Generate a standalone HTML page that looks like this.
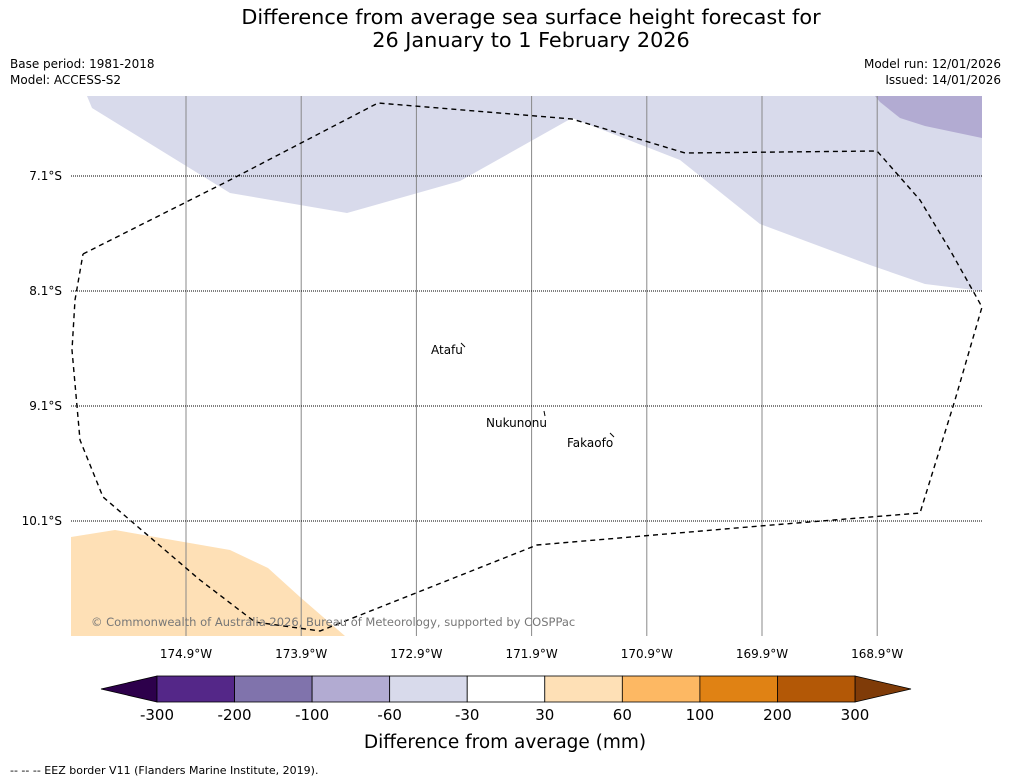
<!DOCTYPE html>
<html><head><meta charset="utf-8"><style>
body{margin:0;background:#fff;font-family:"Liberation Sans","DejaVu Sans",sans-serif;}
svg{display:block}
</style></head><body>
<svg width="1011" height="781" viewBox="0 0 1011 781" font-family="DejaVu Sans, Liberation Sans, sans-serif">
<text x="531" y="24" font-size="20.8" text-anchor="middle">Difference from average sea surface height forecast for</text>
<text x="531" y="47" font-size="20.8" text-anchor="middle">26 January to 1 February 2026</text>
<text x="10" y="68" font-size="12">Base period: 1981-2018</text>
<text x="10" y="84" font-size="12">Model: ACCESS-S2</text>
<text x="1001" y="68" font-size="12" text-anchor="end">Model run: 12/01/2026</text>
<text x="1001" y="84" font-size="12" text-anchor="end">Issued: 14/01/2026</text>
<g>
<clipPath id="c"><rect x="71" y="96" width="911" height="540"/></clipPath>
<g clip-path="url(#c)">
<polygon fill="#d8daeb" points="87,96 92,108 230,193 347,213 460,181 572,118 680,160 760,224 870,265 925,284 982,291 982,96"/>
<polygon fill="#b2abd2" points="875,96 880,102 900,118 925,126 982,138 982,96"/>
<polygon fill="#fee0b6" points="71,537 115,530 230,550 268,568 300,597 345,636 71,636"/>
</g>
<g id="grid" stroke-width="1"></g>
<polyline fill="none" stroke="#000" stroke-width="1.4" stroke-dasharray="5,4" points="83,254 230,180 378,103 572,119 685,153 877,151 920,200 950,250 982,307 955,400 920,513 760,526 537,545 320,631 255,622 200,580 103,497 80,440 72,350 75,300 83,254"/>
<text x="431" y="354" font-size="12">Atafu</text>
<path d="M461 343 l4 4" stroke="#000"/>
<text x="486" y="427" font-size="12">Nukunonu</text>
<path d="M544 411 l1 5" stroke="#000"/>
<text x="567" y="447" font-size="12">Fakaofo</text>
<path d="M610 433 l4 4" stroke="#000"/>
<text x="91" y="626" font-size="11.5" fill="#777">© Commonwealth of Australia 2026, Bureau of Meteorology, supported by COSPPac</text>
</g>
<g id="cbar"></g>
<text x="505" y="748" font-size="18.5" text-anchor="middle">Difference from average (mm)</text>
<text x="10" y="774" font-size="11">--  --  -- EEZ border V11 (Flanders Marine Institute, 2019).</text>
</svg>
<script>
const lons=[-174.9,-173.9,-172.9,-171.9,-170.9,-169.9,-168.9];
const lats=[-7.1,-8.1,-9.1,-10.1];
const levels=[-300,-200,-100,-60,-30,30,60,100,200,300];
const colors=["#2d004b","#542788","#8073ac","#b2abd2","#d8daeb","#ffffff","#fee0b6","#fdb863","#e08214","#b35806","#7f3b08"];
const NS="http://www.w3.org/2000/svg";
const xs=lon=>186+(lon+174.9)*115.2;
const ys=lat=>176+(-7.1-lat)*115;
const g=document.getElementById('grid');
function mk(t,a,p){const e=document.createElementNS(NS,t);for(const k in a)e.setAttribute(k,a[k]);p.appendChild(e);return e;}
lons.forEach(l=>{const x=xs(l);
const ln=mk('line',{x1:x,x2:x,y1:96,y2:636,stroke:'#888'},g);


const t=mk('text',{x:x,y:658,'font-size':12,'text-anchor':'middle'},g);t.textContent=Math.abs(l).toFixed(1)+'°W';

});
lats.forEach(l=>{const y=ys(l);
const ln=mk('line',{x1:71,x2:982,y1:y,y2:y,stroke:'#000','stroke-dasharray':'1,1'},g);


const t=mk('text',{x:62,y:y+4,'font-size':12,'text-anchor':'end'},g);t.textContent=Math.abs(l).toFixed(1)+'°S';

});
const cb=document.getElementById('cbar');
const x0=157,x1=855,y0=676,y1=702,n=levels.length-1,w=(x1-x0)/n;
const lt=mk('polygon',{points:`${x0},${y0} ${x0},${y1} 101,689`,fill:colors[0],stroke:'#000','stroke-width':0.8},cb);


const rt=mk('polygon',{points:`${x1},${y0} ${x1},${y1} 911,689`,fill:colors[colors.length-1],stroke:'#000','stroke-width':0.8},cb);


for(let i=0;i<n;i++){const r=mk('rect',{x:x0+i*w,y:y0,width:w,height:y1-y0,fill:colors[i+1],stroke:'#000','stroke-width':0.8},cb);

}
levels.forEach((v,i)=>{const t=mk('text',{x:x0+i*w,y:720,'font-size':15,'text-anchor':'middle'},cb);t.textContent=v;

});
</script>
</body></html>
